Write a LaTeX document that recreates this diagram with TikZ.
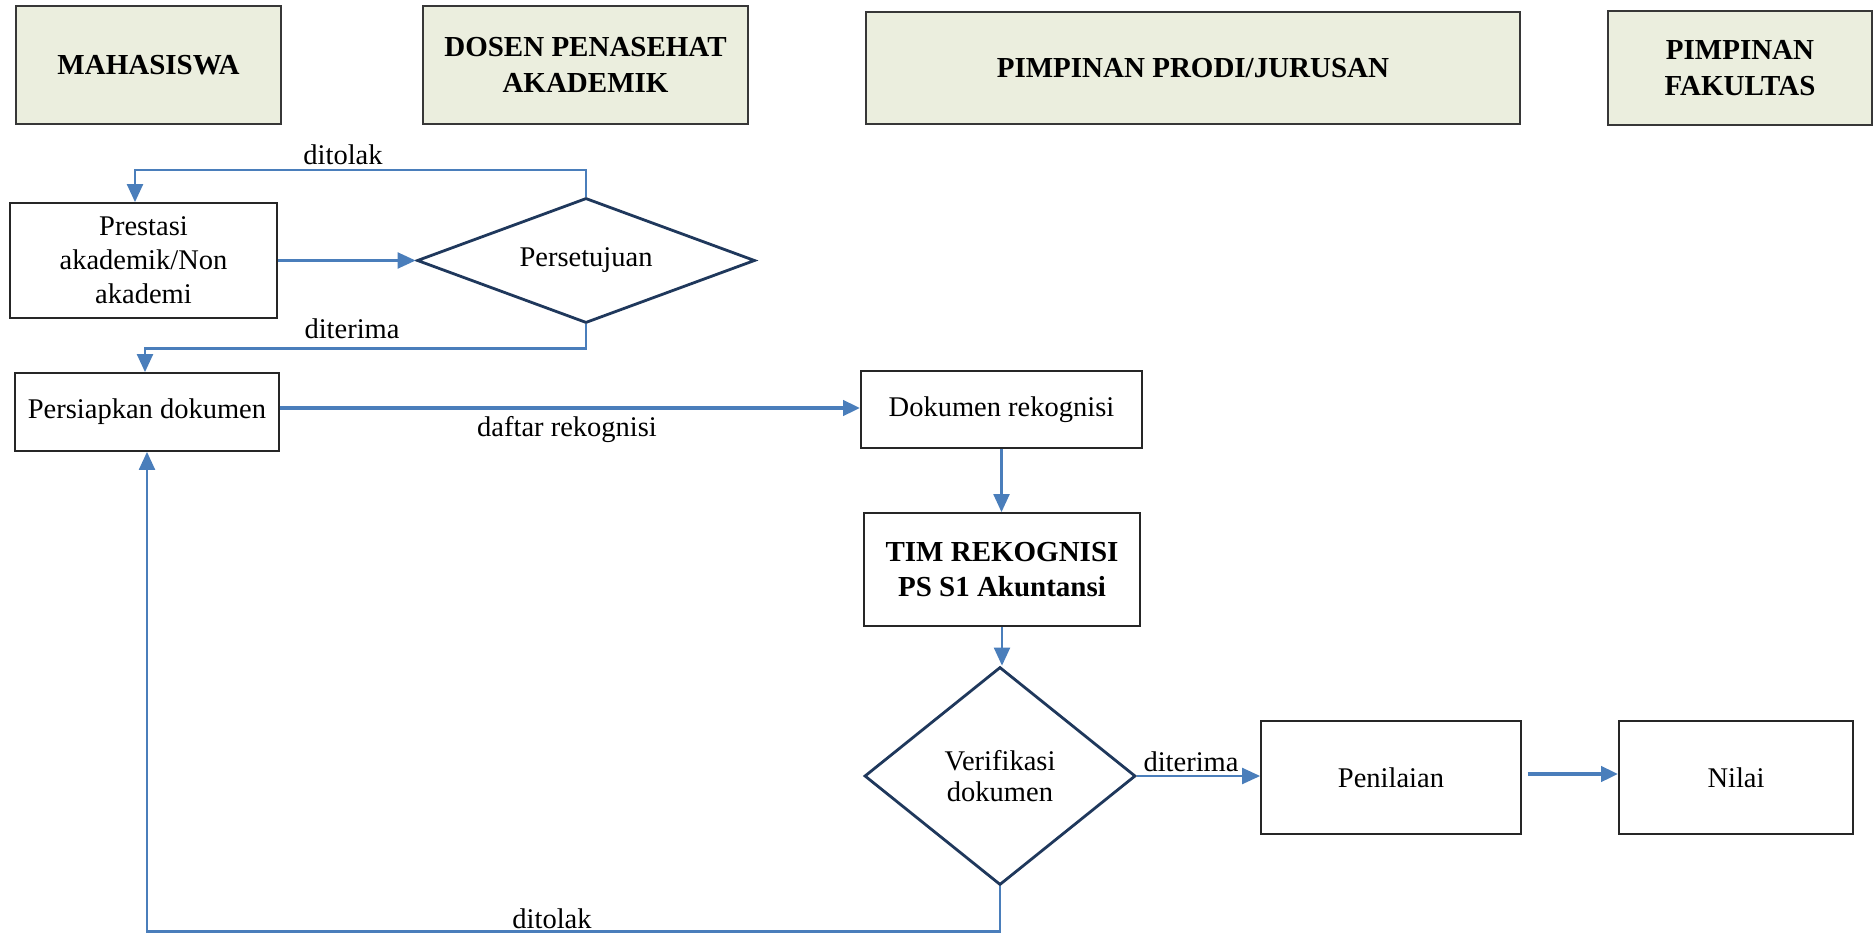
\documentclass[tikz,border=0pt]{standalone}
\usepackage{fontspec}
\setmainfont{Liberation Serif}
\usetikzlibrary{arrows.meta,shapes.geometric}
\definecolor{hdrfill}{RGB}{235,238,222}
\definecolor{hdrline}{RGB}{55,55,55}
\definecolor{flowblue}{RGB}{74,126,187}
\definecolor{navy}{RGB}{31,56,92}
\begin{document}
\begin{tikzpicture}[x=1pt,y=-1pt,
  hdr/.style={draw=hdrline, line width=2pt, fill=hdrfill, inner sep=0pt, align=center,
              font=\fontsize{29}{36}\selectfont\bfseries},
  box/.style={draw=black!85, line width=1.8pt, inner sep=0pt, align=center,
              font=\fontsize{28.5}{34}\selectfont},
  boldbox/.style={box, font=\fontsize{29}{35}\selectfont\bfseries},
  dec/.style={diamond, draw=navy, line width=2.8pt, inner sep=0pt, align=center,
              font=\fontsize{28.5}{31}\selectfont},
  lbl/.style={inner sep=0pt, font=\fontsize{28.5}{34}\selectfont},
  conn/.style={draw=flowblue, line width=2.2pt},
  arr/.style={conn, -{Triangle[length=18pt,width=16pt]}},
  thickarr/.style={draw=flowblue, line width=4pt, -{Triangle[length=17pt,width=15pt]}},
]
\useasboundingbox (0,0) rectangle (1874,934);
\fill[white] (0,0) rectangle (1874,934);

% header lanes
\node[hdr, minimum width=265pt, minimum height=118pt] (h1) at (148.5,65) {MAHASISWA};
\node[hdr, minimum width=325pt, minimum height=118pt] (h2) at (585.5,65) {DOSEN PENASEHAT\\AKADEMIK};
\node[hdr, minimum width=654pt, minimum height=112pt] (h3) at (1193,68) {PIMPINAN PRODI/JURUSAN};
\node[hdr, minimum width=264pt, minimum height=114pt] (h4) at (1740,68) {PIMPINAN\\FAKULTAS};

% process nodes
\node[box, minimum width=267pt, minimum height=115pt] (pre) at (143.5,260.5) {Prestasi\\akademik/Non\\akademi};
\node[dec, minimum width=338pt, minimum height=125pt, aspect=2.7] (setuju) at (586,260.5) {Persetujuan};
\node[box, minimum width=264pt, minimum height=78pt] (siap) at (147,412) {Persiapkan dokumen};
\node[box, minimum width=281pt, minimum height=77pt] (dok) at (1001.5,409.5) {Dokumen rekognisi};
\node[boldbox, minimum width=276pt, minimum height=113pt] (tim) at (1002,569.5) {TIM REKOGNISI\\PS S1 Akuntansi};
\node[dec, minimum width=271pt, minimum height=218pt, aspect=1.24] (verif) at (1000,776) {Verifikasi\\dokumen};
\node[box, minimum width=260pt, minimum height=113pt] (nil1) at (1391,777.5) {Penilaian};
\node[box, minimum width=234pt, minimum height=113pt] (nilai) at (1736,777.5) {Nilai};

% connectors
\draw[arr] (setuju.north) -- ++(0,-27) -| ([xshift=-8.5pt]pre.north);
\draw[arr] (pre.east) -- (setuju.west);
\draw[arr] (setuju.south) -- ++(0,24) -| ([xshift=-2pt]siap.north);
\draw[thickarr] ([yshift=4pt]siap.east) -- ([yshift=4pt]siap.east -| dok.west);
\draw[arr] (dok.south) -- (dok.south |- tim.north);
\draw[arr] (tim.south) -- (tim.south |- verif.north);
\draw[arr] (verif.east) -- (verif.east -| nil1.west);
\draw[thickarr] ([xshift=6pt,yshift=3.5pt]nil1.east) -- ([yshift=3.5pt]nilai.west);
\draw[arr] (verif.south) -- ++(0,45) -| (siap.south);

% labels
\node[lbl, anchor=base] (t1) at (343,164) {ditolak};
\node[lbl, anchor=base] (t2) at (352,338) {diterima};
\node[lbl, anchor=base] (t3) at (567,436) {daftar rekognisi};
\node[lbl, anchor=base] (t4) at (1191,771) {diterima};
\node[lbl, anchor=base] (t5) at (552,928) {ditolak};
\end{tikzpicture}
\end{document}
